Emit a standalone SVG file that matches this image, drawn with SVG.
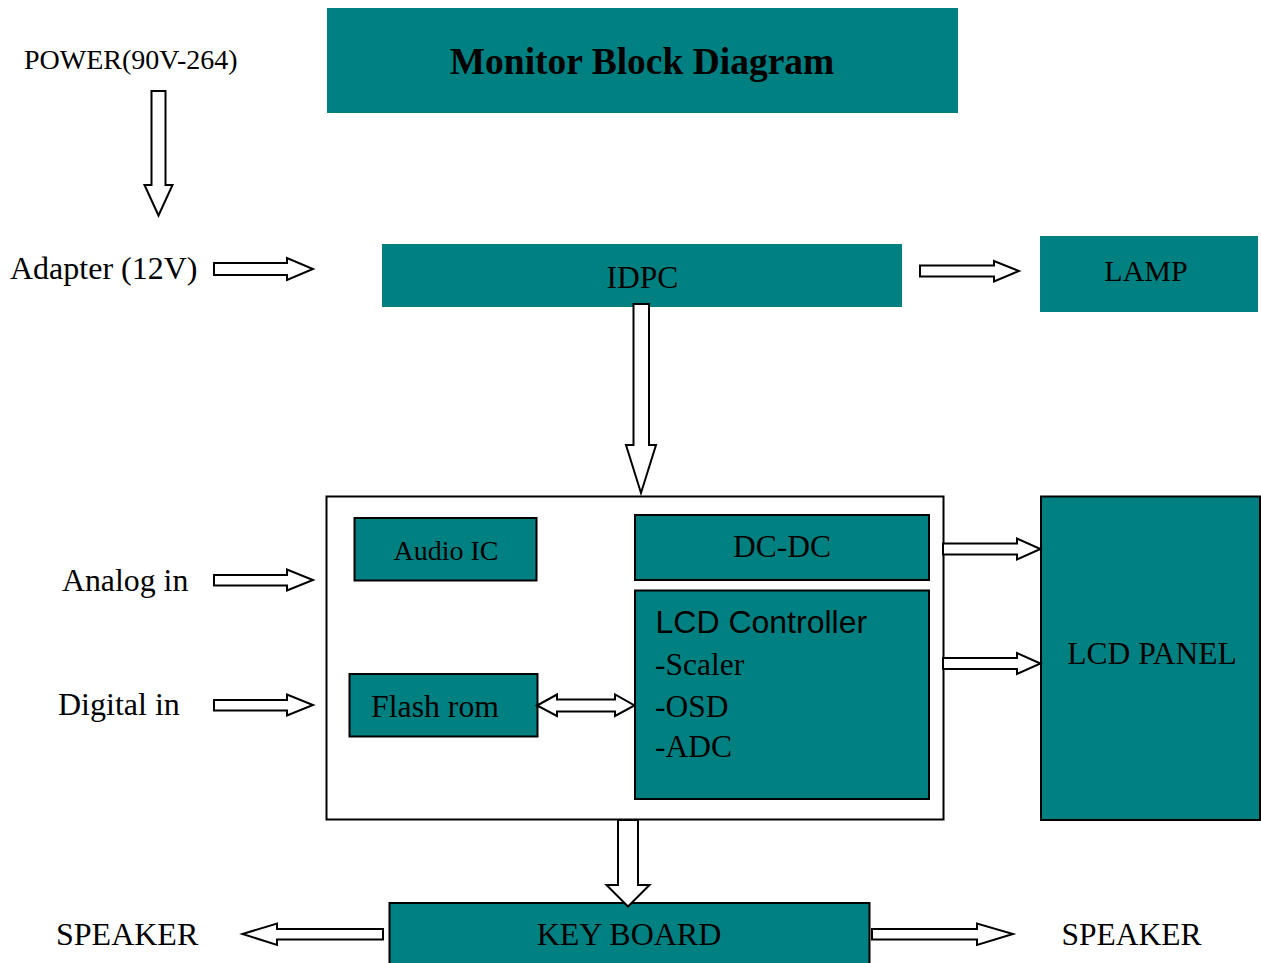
<svg xmlns="http://www.w3.org/2000/svg" width="1261" height="963" viewBox="0 0 1261 963">
  <style>
    .teal { fill: #008080; }
    .boxed { fill: #008080; stroke: #000; stroke-width: 2; }
    .frame { fill: #fff; stroke: #000; stroke-width: 2; }
    .arrow { fill: #fff; stroke: #000; stroke-width: 2; stroke-linejoin: miter; }
    text { font-family: "Liberation Serif", "Times New Roman", serif; fill: #000; }
    .lbl { font-size: 31.5px; }
    .mid { text-anchor: middle; }
    .sans { font-family: "Liberation Sans", Arial, sans-serif; }
  </style>
  <rect width="1261" height="963" fill="#fff"/>

  <!-- title banner -->
  <g id="title">
    <rect class="teal" x="327" y="8" width="631" height="105"/>
    <text x="642" y="74" class="mid" font-size="37.5" font-weight="bold">Monitor Block Diagram</text>
  </g>

  <!-- free-standing labels -->
  <g id="power"><text x="24" y="69" font-size="28">POWER(90V-264)</text></g>
  <g id="adapter"><text x="10" y="279" font-size="32">Adapter (12V)</text></g>
  <g id="analog-in"><text x="62" y="591" font-size="31.8">Analog in</text></g>
  <g id="digital-in"><text x="58" y="715" font-size="32">Digital in</text></g>
  <g id="speaker-left"><text x="56" y="944.5" font-size="32">SPEAKER</text></g>
  <g id="speaker-right"><text x="1061.5" y="945" font-size="31.5">SPEAKER</text></g>

  <g id="idpc">
    <rect class="teal" x="382" y="244" width="520" height="63"/>
    <text x="642.5" y="288" class="lbl mid">IDPC</text>
  </g>

  <g id="lamp">
    <rect class="teal" x="1040" y="236" width="218" height="76"/>
    <text x="1146" y="281" class="mid" font-size="30">LAMP</text>
  </g>

  <!-- main board -->
  <g id="main-board">
    <rect class="frame" x="326.5" y="496.5" width="617" height="323"/>
  </g>

  <g id="audio-ic">
    <rect class="boxed" x="354.5" y="518" width="182" height="62.5"/>
    <text x="446" y="560" class="mid" font-size="28">Audio IC</text>
  </g>

  <g id="dc-dc">
    <rect class="boxed" x="635" y="515" width="294" height="65"/>
    <text x="782" y="557" class="lbl mid">DC-DC</text>
  </g>

  <g id="lcd-controller">
    <rect class="boxed" x="635" y="590.5" width="294" height="208.5"/>
    <text x="655.5" y="633" class="sans" font-size="32">LCD Controller</text>
    <text x="655" y="674.5" class="lbl">-Scaler</text>
    <text x="655" y="716.5" class="lbl">-OSD</text>
    <text x="655" y="757" class="lbl">-ADC</text>
  </g>

  <g id="flash-rom">
    <rect class="boxed" x="349.5" y="674" width="188" height="62.5"/>
    <text x="371" y="717" font-size="31.8">Flash rom</text>
  </g>

  <g id="lcd-panel">
    <rect class="boxed" x="1041" y="496.5" width="219" height="323.5"/>
    <text x="1152" y="663.5" class="lbl mid">LCD PANEL</text>
  </g>

  <g id="keyboard">
    <rect class="boxed" x="389.5" y="903" width="480" height="70"/>
    <text x="629" y="945" class="mid" font-size="32">KEY BOARD</text>
  </g>

  <!-- block arrows -->
  <g id="connectors">
    <!-- mains to adapter -->
    <polygon class="arrow" points="151.5,91 165.5,91 165.5,185 172.5,185 158.5,215.5 144.5,185 151.5,185"/>
    <!-- adapter to IDPC -->
    <polygon class="arrow" points="214,263 287,263 287,258 313,269 287,280 287,275 214,275"/>
    <!-- IDPC to lamp -->
    <polygon class="arrow" points="920,265.5 994,265.5 994,261 1019,271 994,281.5 994,276.5 920,276.5"/>
    <!-- IDPC to main board -->
    <polygon class="arrow" points="633.5,304 649,304 649,445 656,445 641,493 626,445 633.5,445"/>
    <!-- analog input -->
    <polygon class="arrow" points="214,575 287,575 287,569.5 313,580 287,590.5 287,585.5 214,585.5"/>
    <!-- digital input -->
    <polygon class="arrow" points="214,700 287,700 287,694.5 313,705 287,715.5 287,710.5 214,710.5"/>
    <!-- flash rom <-> controller -->
    <polygon class="arrow" points="537,705.5 557,694.5 557,699.5 615,699.5 615,694.5 634.5,705.5 615,716 615,711.5 557,711.5 557,716"/>
    <!-- DC-DC to panel -->
    <polygon class="arrow" points="943,543.5 1017,543.5 1017,538.5 1040.5,549 1017,559.5 1017,554.5 943,554.5"/>
    <!-- controller to panel -->
    <polygon class="arrow" points="943,658 1017,658 1017,653 1040.5,663.5 1017,674 1017,669 943,669"/>
    <!-- main board to keyboard -->
    <polygon class="arrow" points="618,820 638,820 638,885 649.5,885 628,906.5 606.5,885 618,885"/>
    <!-- keyboard to left speaker -->
    <polygon class="arrow" points="383,929 277,929 277,923.5 242.5,934 277,945 277,939.5 383,939.5"/>
    <!-- keyboard to right speaker -->
    <polygon class="arrow" points="872,929 977,929 977,923.5 1013,934 977,945 977,939.5 872,939.5"/>
  </g>
</svg>
